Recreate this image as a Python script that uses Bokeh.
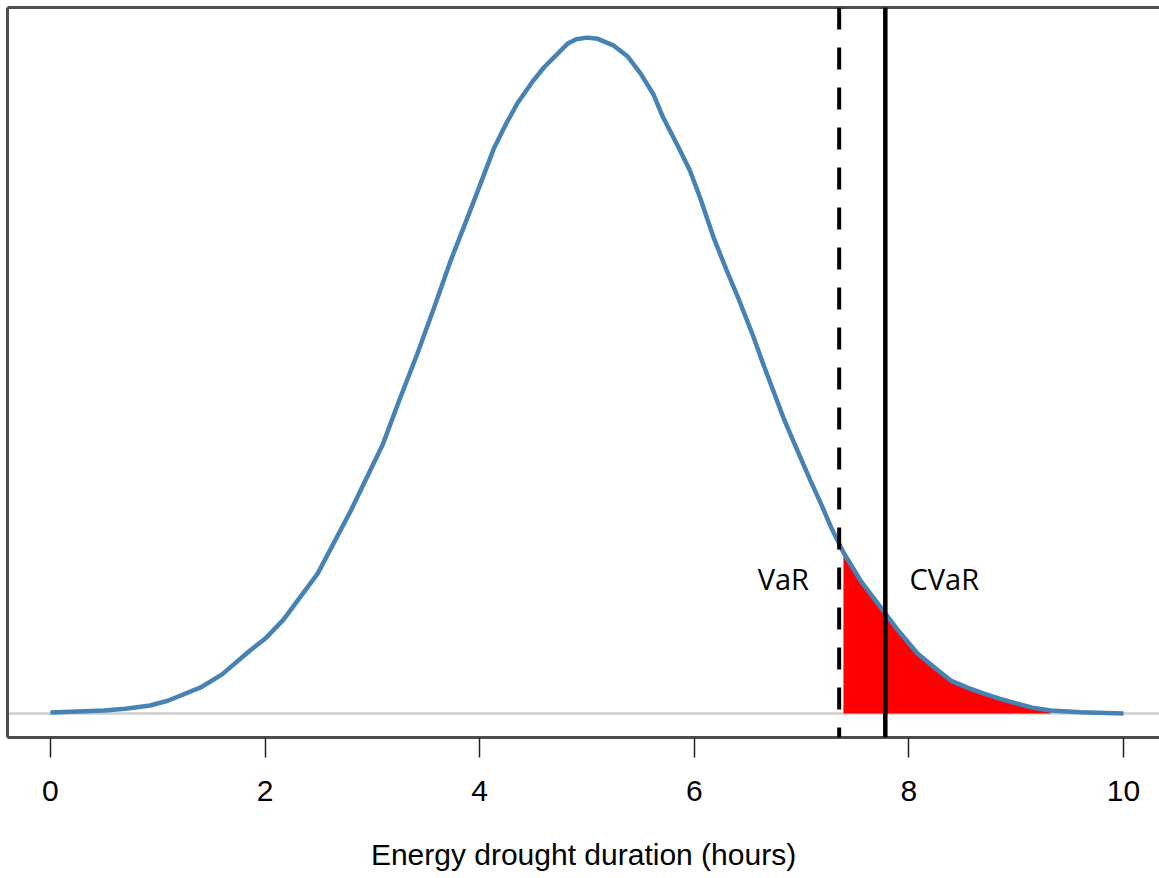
import numpy as np
from bokeh.plotting import figure
from bokeh.models import (Range1d, LinearAxis, FixedTicker, Span, ColumnDataSource)
from bokeh.core.properties import value
from bokeh.embed import file_html
from bokeh.resources import INLINE

# ---- data ----
duration_hours = [0.00, 0.50, 0.70, 0.93, 1.10, 1.40, 1.60, 1.86, 2.00, 2.17, 2.49,
                  2.80, 3.10, 3.25, 3.42, 3.57, 3.73, 3.89, 4.00, 4.13, 4.25, 4.35,
                  4.50, 4.60, 4.69, 4.82, 4.90, 5.00, 5.10, 5.25, 5.38, 5.50, 5.62,
                  5.71, 5.85, 5.96, 6.05, 6.18, 6.30, 6.43, 6.55, 6.64, 6.83, 6.96,
                  7.07, 7.18, 7.28, 7.39, 7.55, 7.76, 7.90, 8.08, 8.25, 8.39, 8.55,
                  8.70, 8.85, 9.01, 9.15, 9.32, 9.60, 10.00]
density = [0.0004, 0.0013, 0.0020, 0.0034, 0.0055, 0.0110, 0.0165, 0.0266, 0.0315,
           0.0395, 0.0590, 0.0856, 0.1138, 0.1320, 0.1518, 0.1705, 0.1910, 0.2095,
           0.2225, 0.2380, 0.2490, 0.2572, 0.2669, 0.2725, 0.2766, 0.2825, 0.2843,
           0.2850, 0.2845, 0.2816, 0.2770, 0.2698, 0.2610, 0.2513, 0.2390, 0.2289,
           0.2180, 0.2007, 0.1870, 0.1729, 0.1590, 0.1476, 0.1248, 0.1110, 0.0995,
           0.0885, 0.0780, 0.0679, 0.0560, 0.0434, 0.0350, 0.0253, 0.0190, 0.0139,
           0.0108, 0.0084, 0.0062, 0.0042, 0.0025, 0.0013, 0.0005, 0.0000]
var_value = 7.35
cvar_value = 7.78
tail_start = 7.39
tail_end = 9.35
x_ticks = [0, 2, 4, 6, 8, 10]
label_texts = ["VaR", "CVaR"]
label_x = [6.83, 8.33]
label_y = [0.0569, 0.0569]

# ---- figure ----
p = figure(width=1159, height=878,
           x_range=Range1d(-0.40, 10.335), y_range=Range1d(-0.0101, 0.2977),
           output_backend="svg", toolbar_location=None,
           x_axis_location=None, y_axis_location=None,
           min_border_left=7, min_border_right=0, min_border_top=7,
           min_border_bottom=141)
p.outline_line_color = None
p.xgrid.visible = False
p.ygrid.visible = False
p.background_fill_color = "white"
p.border_fill_color = "white"

frame_col = "#4d4d4d"

# bottom axis with ticks
xa = LinearAxis(ticker=FixedTicker(ticks=x_ticks))
xa.axis_line_color = frame_col
xa.axis_line_width = 3
xa.major_tick_line_color = "#222222"
xa.major_tick_line_width = 1.5
xa.major_tick_out = 20
xa.major_tick_in = 0
xa.minor_tick_line_color = None
xa.major_label_text_font = "Liberation Sans"
xa.major_label_text_font_size = "30px"
xa.major_label_text_color = "black"
xa.major_label_standoff = 23
xa.axis_label = "Energy drought duration (hours)"
xa.axis_label_text_font = "Liberation Sans"
xa.axis_label_text_font_size = "30px"
xa.axis_label_text_font_style = "normal"
xa.axis_label_text_color = "black"
xa.axis_label_standoff = 34
p.add_layout(xa, "below")

# left and top frame lines as bare axes
for loc in ("left", "above"):
    ax = LinearAxis(ticker=FixedTicker(ticks=[]))
    ax.axis_line_color = frame_col
    ax.axis_line_width = 3
    ax.major_tick_line_color = None
    ax.minor_tick_line_color = None
    ax.major_label_text_font_size = "0px"
    ax.major_label_standoff = 0
    p.add_layout(ax, loc)

# grey baseline
p.add_layout(Span(location=0, dimension="width", line_color="#cccccc",
                  line_width=2.5, level="underlay"))

# red tail fill
dh = np.array(duration_hours)
dn = np.array(density)
mask = (dh >= tail_start) & (dh <= tail_end)
tail = ColumnDataSource(dict(x=dh[mask], y1=dn[mask], y0=np.zeros(mask.sum())))
p.varea(x="x", y1="y1", y2="y0", source=tail, fill_color="red")

# density curve
p.line(duration_hours, density, line_color="#4682b4", line_width=4.5,
       line_join="round")

# VaR (dashed) and CVaR (solid)
p.add_layout(Span(location=var_value, dimension="height", line_color="black",
                  line_width=4, line_dash="22 18"))
p.add_layout(Span(location=cvar_value, dimension="height", line_color="black",
                  line_width=4.5))

# labels
lab = ColumnDataSource(dict(x=label_x, y=label_y, t=label_texts))
p.text(x="x", y="y", text="t", source=lab, text_font=value("Open Sans"),
       text_font_size="29px", text_color="black", text_align="center",
       text_baseline="middle")

open("out.html", "w").write(file_html(p, INLINE))
